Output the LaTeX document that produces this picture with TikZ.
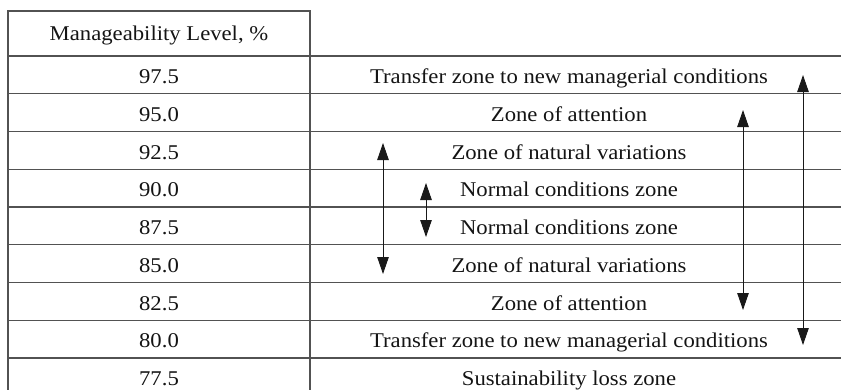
\documentclass[tikz,border=0pt]{standalone}
\usepackage{fontspec}
\setmainfont{Liberation Serif}[FakeStretch=1.08]
\usetikzlibrary{arrows.meta}
\begin{document}
\begin{tikzpicture}[x=1pt,y=-1pt,
  rule/.style={draw=black!68,line width=1.1pt},
  cell/.style={font=\fontsize{21}{24}\selectfont,anchor=base,inner sep=0pt,text=black!92},
  span/.style={draw=black!90,line width=0.9pt,
    {Triangle[length=17pt,width=11.5pt]}-{Triangle[length=17pt,width=11.5pt]}}]
\useasboundingbox (0,0) rectangle (841,389);
\clip (0,0) rectangle (841,389);

% table frame: header cell on the left, open above the zone column
\draw[rule] (8,400) -- (8,11) -- (310,11) -- (310,400);
\foreach \i in {0,...,9}
  \draw[rule] (8,{56+37.75*\i}) -- (841,{56+37.75*\i});

% header
\node[cell] (head) at (159,40) {Manageability Level, \%};

% levels and zones, one row each
\foreach [count=\i from 0] \lvl/\zone/\nm in {
  97.5/Transfer zone to new managerial conditions/a,
  95.0/Zone of attention/b,
  92.5/Zone of natural variations/c,
  90.0/Normal conditions zone/d,
  87.5/Normal conditions zone/e,
  85.0/Zone of natural variations/f,
  82.5/Zone of attention/g,
  80.0/Transfer zone to new managerial conditions/h,
  77.5/Sustainability loss zone/k} {
  \node[cell] (lvl-\nm) at (159,{56+37.75*\i+27.5}) {\lvl};
  \node[cell] (zone-\nm) at (569,{56+37.75*\i+27.5}) {\zone};
}

% ranges spanned by the zones
\coordinate (t1) at (803,75);  \coordinate (b1) at (803,345);
\coordinate (t2) at (743,110); \coordinate (b2) at (743,310);
\coordinate (t3) at (383,143); \coordinate (b3) at (383,274);
\coordinate (t4) at (426,183); \coordinate (b4) at (426,237);
\draw[span] (t1) -- (b1);
\draw[span] (t2) -- (b2);
\draw[span] (t3) -- (b3);
\draw[span] (t4) -- (b4);
\end{tikzpicture}
\end{document}
